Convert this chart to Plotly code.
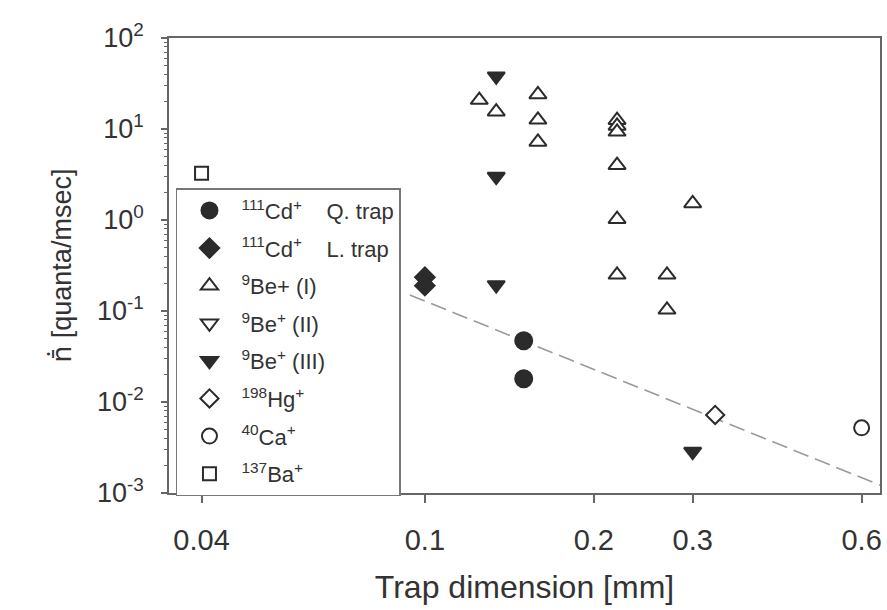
import math
import plotly.graph_objects as go

# Heating rate (quanta/msec) versus trap dimension (mm) for several ion species
cd_q_x = [0.15, 0.15]
cd_q_y = [0.047, 0.018]

cd_l_x = [0.1, 0.1]
cd_l_y = [0.235, 0.19]

be1_x = [0.125, 0.134, 0.159, 0.159, 0.159, 0.22, 0.22, 0.22, 0.22, 0.22, 0.22, 0.3, 0.27, 0.27]
be1_y = [20.8, 15.5, 24.0, 12.6, 7.2, 12.5, 10.8, 9.3, 4.0, 1.02, 0.25, 1.52, 0.25, 0.103]

# no separate points for this set; it keeps its legend entry
be2_x = [None]
be2_y = [None]

be3_x = [0.134, 0.134, 0.134, 0.3]
be3_y = [38.0, 3.0, 0.193, 0.00285]

hg_x = [0.329]
hg_y = [0.0072]

ca_x = [0.6]
ca_y = [0.0052]

ba_x = [0.04]
ba_y = [3.26]

# end points of the dashed trend line
fit_x = [0.094, 0.647]
fit_y = [0.15, 0.00122]

x_ticks = [0.04, 0.1, 0.2, 0.3, 0.6]
x_tick_text = ["0.04", "0.1", "0.2", "0.3", "0.6"]
y_exponents = [-3, -2, -1, 0, 1, 2]

INK = "#2b2b2b"
AXIS = "#666666"
FONT = "Liberation Sans, Arial, sans-serif"

fig = go.Figure()

fig.add_trace(go.Scatter(
    x=fit_x, y=fit_y, mode="lines", showlegend=False, hoverinfo="skip",
    line=dict(color="#9a9a9a", width=1.6, dash="16px,7px"),
))


def add_series(name, xs, ys, symbol, size, filled, group):
    fig.add_trace(go.Scatter(
        x=xs, y=ys, mode="markers", name=name, legendgroup=group,
        showlegend=True,
        marker=dict(
            symbol=symbol, size=size,
            color=INK if filled else "white",
            line=dict(color=INK, width=2),
        ),
    ))


add_series("<sup>111</sup>Cd<sup>+</sup> &nbsp;&nbsp;&nbsp;Q. trap", cd_q_x, cd_q_y, "circle", 17, True, "a")
add_series("<sup>111</sup>Cd<sup>+</sup> &nbsp;&nbsp;&nbsp;L. trap", cd_l_x, cd_l_y, "diamond", 15, True, "b")
add_series("<sup>9</sup>Be+ (I)", be1_x, be1_y, "triangle-up", 15, False, "c")
add_series("<sup>9</sup>Be<sup>+</sup> (II)", be2_x, be2_y, "triangle-down", 15, False, "d")
add_series("<sup>9</sup>Be<sup>+</sup> (III)", be3_x, be3_y, "triangle-down", 15, True, "e")
add_series("<sup>198</sup>Hg<sup>+</sup>", hg_x, hg_y, "diamond", 14, False, "f")
add_series("<sup>40</sup>Ca<sup>+</sup>", ca_x, ca_y, "circle", 15, False, "g")
add_series("<sup>137</sup>Ba<sup>+</sup>", ba_x, ba_y, "square", 13, False, "h")

minor_y = [m * 10 ** e for e in range(-3, 2) for m in range(2, 10)]

y_title = ("<span style='font-family:Noto Sans'>n\u0304\u0307</span>"
           " [quanta/msec]")

fig.update_layout(
    width=887, height=610,
    margin=dict(l=169, r=7, t=38, b=117, autoexpand=False),
    paper_bgcolor="white", plot_bgcolor="white",
    font=dict(family=FONT, color="#333333"),
    xaxis=dict(
        type="log",
        range=[math.log10(0.035), math.log10(0.647)],
        tickvals=x_ticks, ticktext=x_tick_text,
        tickfont=dict(size=29),
        ticks="outside", ticklen=8, tickwidth=1.5, tickcolor=AXIS,
        ticklabelstandoff=12,
        showline=True, linecolor=AXIS, linewidth=1.5, mirror=True,
        showgrid=False, zeroline=False,
        title=dict(text="Trap dimension [mm]", font=dict(size=32), standoff=21),
    ),
    yaxis=dict(
        type="log",
        range=[-3, 2],
        tickvals=[10 ** e for e in y_exponents],
        ticktext=[f"10<sup>{e}</sup>" for e in y_exponents],
        tickfont=dict(size=27),
        ticks="outside", ticklen=6, tickwidth=1.5, tickcolor=AXIS,
        ticklabelstandoff=12,
        minor=dict(tickvals=minor_y, ticks="outside", ticklen=3,
                   tickwidth=1, tickcolor=AXIS, showgrid=False),
        showline=True, linecolor=AXIS, linewidth=1.5, mirror=True,
        showgrid=False, zeroline=False,
        title=dict(text=y_title, font=dict(size=27), standoff=18),
    ),
    legend=dict(
        x=0.0098, y=0.670, xanchor="left", yanchor="top",
        bgcolor="white", bordercolor="#777777", borderwidth=1.5,
        font=dict(size=22, color="#333333"),
        traceorder="grouped", tracegroupgap=6,
        itemwidth=54,
    ),
)

fig.write_html("out.html")
